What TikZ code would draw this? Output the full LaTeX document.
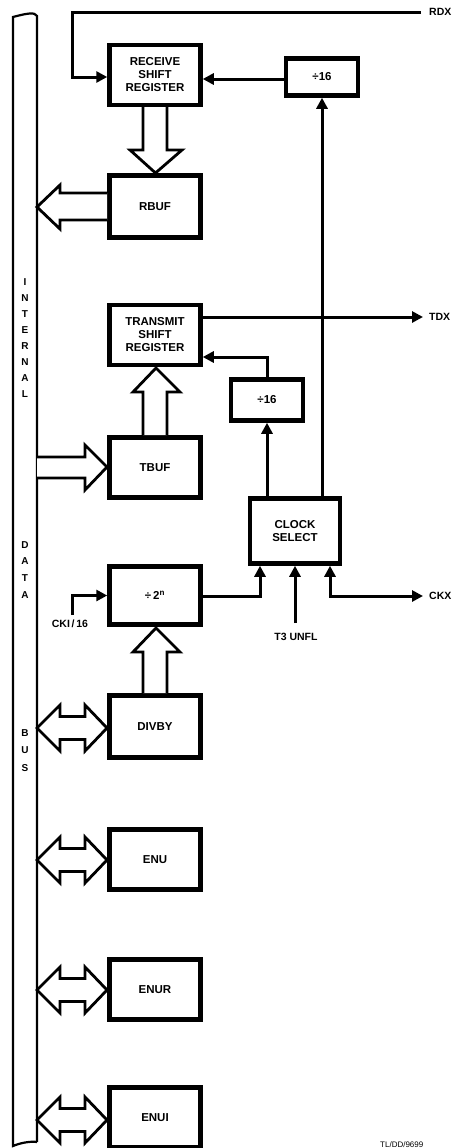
\documentclass[tikz,border=0pt]{standalone}
\usepackage{fontspec}
\setmainfont{Liberation Sans}
\usetikzlibrary{arrows.meta}
\newcommand\DblHollow[1]{%
  \draw[hollow] (37,#1) -- (60,{#1-23}) -- (60,{#1-11.5}) -- (85,{#1-11.5}) -- (85,{#1-23}) -- (107,#1)
    -- (85,{#1+23}) -- (85,{#1+11.5}) -- (60,{#1+11.5}) -- (60,{#1+23}) -- cycle;}
\begin{document}
\begin{tikzpicture}[x=1pt,y=-1pt,
  blk/.style={draw, line width=4.5pt, minimum width=91pt, minimum height=60pt, inner sep=0pt, align=center,
    font=\bfseries\fontsize{11.5}{13}\selectfont},
  wire/.style={line width=3pt},
  tip/.style={-{Triangle[length=11pt,width=11pt]}},
  hollow/.style={draw, fill=white, line width=2.8pt, line join=miter},
  lbl/.style={font=\bfseries\fontsize{10.5}{10.5}\selectfont, inner sep=0pt},
  busl/.style={font=\bfseries\fontsize{10}{10}\selectfont, inner sep=0pt}]
\useasboundingbox (0,0) rectangle (460,1148);
\clip (0,0) rectangle (460,1148);

% internal data bus
\draw[line width=2.2pt] (37,1142) -- (37,16) .. controls (35,12) and (28,13) .. (13,17) -- (13,1146)
  .. controls (20,1143) and (30,1141) .. (37,1142);
\foreach \ch/\yy in {I/282,N/298,T/314,E/330,R/346,N/362,A/378,L/394,D/545,A/561,T/578,A/595,B/733,U/750,S/768}
  \node[busl] at (25,\yy) {\ch};

% blocks
\node[blk] (rsr) at (155,75) {RECEIVE\\SHIFT\\REGISTER};
\node[blk, minimum width=72pt, minimum height=37pt] (d16a) at (322,77) {÷16};
\node[blk, minimum height=62pt] (rbuf) at (155,206.5) {RBUF};
\node[blk] (tsr) at (155,335) {TRANSMIT\\SHIFT\\REGISTER};
\node[blk, minimum width=72pt, minimum height=41pt] (d16b) at (267,400) {÷16};
\node[blk] (tbuf) at (155,467.5) {TBUF};
\node[blk, minimum width=90pt, minimum height=65pt] (cs) at (295,531) {CLOCK\\SELECT};
\node[blk, minimum height=58pt] (d2n) at (155,595.5) {÷\,2\textsuperscript{n}};
\node[blk, minimum height=62pt] (divby) at (155,726.5) {DIVBY};
\node[blk] (enu) at (155,859.5) {ENU};
\node[blk] (enur) at (155,989.5) {ENUR};
\node[blk] (enui) at (155,1117.5) {ENUI};

% hollow bus arrows
\draw[hollow] (143,107) -- (143,150) -- (130,150) -- (155.5,173) -- (182,150) -- (167,150) -- (167,107);
\draw[hollow] (107,193) -- (60,193) -- (60,185) -- (37,207) -- (60,229) -- (60,220) -- (107,220);
\draw[hollow] (143,435) -- (143,392) -- (133,392) -- (156,368) -- (180,392) -- (167,392) -- (167,435);
\draw[hollow] (37,457) -- (85,457) -- (85,445) -- (107,467) -- (85,490) -- (85,478) -- (37,478);
\draw[hollow] (143,693) -- (143,652) -- (133,652) -- (156,628) -- (180,652) -- (167,652) -- (167,693);
\DblHollow{728}
\DblHollow{860}
\DblHollow{990}
\DblHollow{1120}

% coordinates for free ends
\coordinate (rdx) at (421,13);
\coordinate (rdxc) at (72,13);
\coordinate (tdx) at (423,317);
\coordinate (ckx) at (423,596);
\coordinate (cki) at (72,615);
\coordinate (t3) at (295,623);
\coordinate (cin1) at (260,596);
\coordinate (cio) at (330,596);
\coordinate (bend) at (267,357);

% connectors
\draw[wire, tip] (rdx) -- (rdxc) |- (rsr.west |- 0,77);
\draw[wire, tip] (d16a.west |- 0,79) -- (rsr.east |- 0,79);
\draw[wire, tip] (d16a.south |- cs.north) -- (d16a.south);
\draw[wire, tip] (d16b.south |- cs.north) -- (d16b.south);
\draw[wire, tip] (d16b.north) -- (bend) -- (tsr.east |- bend);
\draw[wire, tip] (tsr.east |- tdx) -- (tdx);
\draw[wire, tip] (cki) -- (cki |- d2n.west) -- (d2n.west);
\draw[wire, tip] (d2n.east |- cin1) -- (cin1) -- (cin1 |- cs.south);
\draw[wire, tip] (t3) -- (t3 |- cs.south);
\draw[wire, {Triangle[length=11pt,width=11pt]}-{Triangle[length=11pt,width=11pt]}] (cio |- cs.south) -- (cio) -- (ckx);

% labels
\node[lbl, anchor=west] at (429,12) {RDX};
\node[lbl, anchor=west] at (429,317) {TDX};
\node[lbl, anchor=west] at (429,596) {CKX};
\node[lbl] at (70,624) {CKI\,/\,16};
\node[lbl] at (296,637) {T3 UNFL};
\node[font=\fontsize{8}{8}\selectfont, anchor=south west, inner sep=0pt] at (380,1147.5) {TL/DD/9699};
\end{tikzpicture}
\end{document}
